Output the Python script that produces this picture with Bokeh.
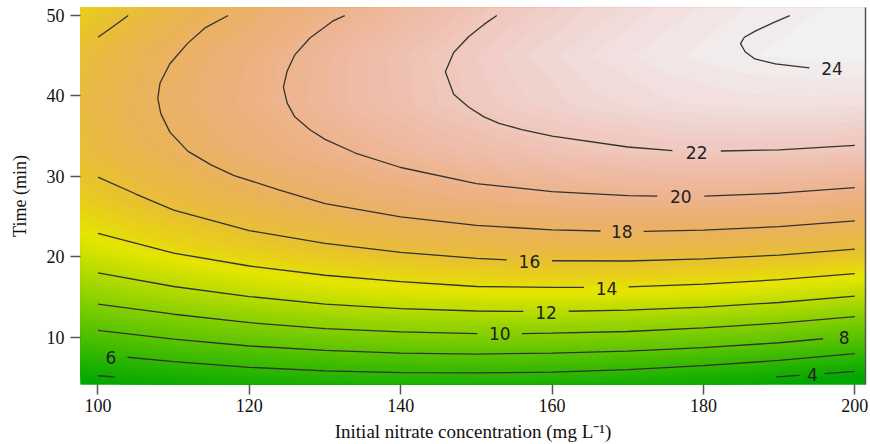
import colorsys
import numpy as np
from bokeh.plotting import figure
from bokeh.models import Range1d, LinearAxis, FixedTicker
from bokeh.core.properties import value
from bokeh.embed import file_html
from bokeh.resources import INLINE

nan = float("nan")

# ---- response surface (removal values) ----
conc_grid = [95, 105, 115, 125, 135, 145, 155, 165, 175, 185, 195, 205]
time_grid = [3, 9, 15, 21, 27, 33, 39, 45, 51]
z_t03 = [1.89, 2.59, 3.13, 3.51, 3.74, 3.80, 3.70, 3.45, 3.03, 2.45, 1.72, 0.82]
z_t09 = [6.30, 7.13, 7.79, 8.30, 8.66, 8.84, 8.87, 8.75, 8.45, 8.01, 7.40, 6.63]
z_t15 = [9.91, 10.86, 11.64, 12.28, 12.75, 13.06, 13.22, 13.22, 13.05, 12.73, 12.25, 11.61]
z_t21 = [12.70, 13.77, 14.68, 15.43, 16.03, 16.46, 16.74, 16.87, 16.82, 16.63, 16.28, 15.76]
z_t27 = [14.67, 15.87, 16.89, 17.77, 18.49, 19.04, 19.45, 19.70, 19.77, 19.70, 19.48, 19.08]
z_t33 = [15.84, 17.15, 18.30, 19.29, 20.13, 20.81, 21.33, 21.70, 21.90, 21.95, 21.85, 21.57]
z_t39 = [16.19, 17.62, 18.88, 20.00, 20.96, 21.75, 22.39, 22.88, 23.20, 23.37, 23.39, 23.24]
z_t45 = [15.73, 17.27, 18.65, 19.88, 20.96, 21.87, 22.63, 23.24, 23.68, 23.97, 24.11, 24.07]
z_t51 = [14.45, 16.11, 17.61, 18.95, 20.15, 21.17, 22.05, 22.77, 23.33, 23.74, 23.99, 24.08]
z_low, z_high = 3.0, 24.19

# ---- contour lines (x: mg/L, y: min) ----
c4_x = [100.0, 102.2, nan, 189.6, 192.7, nan, 196.0, 200.0]
c4_y = [5.20, 5.05, nan, 5.05, 5.25, nan, 5.45, 5.75]
c6_x = [103.9, 110, 120, 130, 140, 150, 160, 170, 180, 190, 200]
c6_y = [7.50, 6.95, 6.25, 5.80, 5.58, 5.55, 5.65, 5.95, 6.45, 7.10, 7.95]
c8_x = [100, 110, 120, 130, 140, 150, 160, 170, 180, 190, 195.8]
c8_y = [10.85, 9.75, 8.90, 8.35, 8.00, 7.90, 8.00, 8.25, 8.70, 9.30, 9.80]
c10_x = [100, 110, 120, 130, 140, 150.1, nan, 156.0, 160, 170, 180, 190, 200]
c10_y = [14.10, 12.85, 11.80, 11.05, 10.65, 10.45, nan, 10.45, 10.50, 10.70, 11.15, 11.75, 12.55]
c12_x = [100, 110, 120, 130, 140, 150, 156.2, nan, 162.2, 170, 180, 190, 200]
c12_y = [18.00, 16.30, 15.05, 14.10, 13.55, 13.25, 13.20, nan, 13.22, 13.36, 13.74, 14.31, 15.10]
c14_x = [100, 110, 120, 130, 140, 150, 160, 164.2, nan, 170.1, 180, 190, 200]
c14_y = [22.90, 20.45, 18.85, 17.70, 16.90, 16.30, 16.18, 16.18, nan, 16.25, 16.60, 17.15, 17.90]
c16_x = [100, 105, 110, 120, 130, 140, 150, 154.0, nan, 160.0, 170, 180, 190, 200, nan, 100, 101.5, 104.0]
c16_y = [29.90, 27.80, 25.80, 23.25, 21.65, 20.55, 19.80, 19.60, nan, 19.50, 19.47, 19.73, 20.21, 20.95, nan, 47.30, 48.30, 50.00]
c18_x = [117.2, 114.2, 111.9, 109.5, 108.2, 107.9, 108.3, 109.5, 111.9, 115.0, 118.0, 124.0, 130, 140, 150, 160, 166.4, nan, 172.1, 180, 190, 200]
c18_y = [50.0, 48.5, 46.6, 44.0, 41.6, 39.7, 37.8, 35.5, 33.1, 31.4, 30.1, 28.3, 26.6, 24.95, 23.9, 23.35, 23.2, nan, 23.15, 23.3, 23.75, 24.45]
c20_x = [132.6, 131.0, 128.0, 126.0, 125.0, 124.5, 125.0, 126.0, 128.0, 130.0, 134.0, 140, 150, 160, 170, 173.9, nan, 180.1, 190, 200]
c20_y = [50.0, 49.3, 47.2, 45.1, 43.1, 41.1, 39.1, 37.4, 35.8, 34.6, 32.9, 31.1, 29.1, 28.1, 27.6, 27.55, nan, 27.55, 27.9, 28.6]
c22_x = [152.7, 151.0, 149.0, 147.0, 145.9, 147.0, 149.0, 151.0, 153.0, 156.0, 160, 170, 175.9, nan, 182.3, 190, 200]
c22_y = [50.0, 48.9, 47.4, 45.4, 43.0, 40.2, 38.6, 37.4, 36.6, 35.8, 35.0, 33.65, 33.2, nan, 33.15, 33.3, 33.85]
c24_x = [191.4, 189.1, 186.9, 185.4, 184.9, 185.5, 186.8, 189.5, 194.0]
c24_y = [50.0, 49.05, 48.1, 47.3, 46.5, 45.5, 44.6, 44.0, 43.5]

label_text = ["24", "22", "20", "18", "16", "14", "12", "10", "8", "6", "4"]
label_x = [197.0, 179.1, 177.0, 169.2, 157.0, 167.2, 159.2, 153.1, 198.6, 101.7, 194.4]
label_y = [43.4, 33.0, 27.45, 23.1, 19.45, 16.05, 13.1, 10.45, 10.0, 7.5, 5.3]

x_ticks = [100, 120, 140, 160, 180, 200]
y_ticks = [10, 20, 30, 40, 50]


def terrain(t):
    t = min(max(t, 0.0), 1.0)
    if t < 0.5:
        s = t / 0.5
        h, sat, v = (120 - 60 * s) / 360.0, 1.0, 0.65 + 0.25 * s
    else:
        s = (t - 0.5) / 0.5
        h, sat, v = (60 - 60 * s) / 360.0, 1.0 - s, 0.90 + 0.05 * s
    r, g, b = colorsys.hsv_to_rgb(h, sat, v)
    return "#%02x%02x%02x" % (round(r * 255), round(g * 255), round(b * 255))


p = figure(width=870, height=444,
           x_range=Range1d(97.69, 201.41), y_range=Range1d(4.11, 51.0),
           output_backend="svg", toolbar_location=None,
           min_border_left=80, min_border_right=5, min_border_top=7, min_border_bottom=0,
           background_fill_color=terrain(0.0), border_fill_color="white",
           outline_line_color=None)
p.grid.visible = False

Z = np.array([z_t03, z_t09, z_t15, z_t21, z_t27, z_t33, z_t39, z_t45, z_t51])
xg = np.array(conc_grid, dtype=float)
yg = np.array(time_grid, dtype=float)
step = 0.25
L = z_low
while L < 24.1:
    col = terrain((L + step / 2 - z_low) / (z_high - z_low))
    lo = L if L > z_low else -50.0
    p.contour(xg, yg, Z, levels=[lo, 99.0], fill_color=[col])
    L += step

line_sets = [(c4_x, c4_y), (c6_x, c6_y), (c8_x, c8_y), (c10_x, c10_y), (c12_x, c12_y),
             (c14_x, c14_y), (c16_x, c16_y), (c18_x, c18_y), (c20_x, c20_y),
             (c22_x, c22_y), (c24_x, c24_y)]
for xs, ys in line_sets:
    p.line(xs, ys, line_color="#333333", line_width=1.3)

p.text(x=label_x, y=label_y, text=label_text, text_font=value("DejaVu Sans"),
       text_font_size="17px", text_align="center", text_baseline="middle",
       text_color="#222222")

for ax in (p.xaxis[0], p.yaxis[0]):
    ax.axis_line_color = None
    ax.major_tick_line_color = "#555555"
    ax.major_tick_line_width = 1.5
    ax.major_tick_out = 10
    ax.major_tick_in = 0
    ax.minor_tick_line_color = None
    ax.major_label_text_font = "Liberation Serif"
    ax.major_label_text_font_size = "18px"
    ax.major_label_text_color = "#111111"
    ax.axis_label_text_font = "Liberation Serif"
    ax.axis_label_text_font_style = "normal"
    ax.axis_label_text_color = "#111111"

p.xaxis.ticker = FixedTicker(ticks=x_ticks)
p.yaxis.ticker = FixedTicker(ticks=y_ticks)
p.xaxis.major_label_standoff = 4
p.yaxis.major_label_standoff = 6
p.xaxis.axis_label = "Initial nitrate concentration (mg L\u207b\u00b9)"
p.xaxis.axis_label_text_font_size = "19px"
p.xaxis.axis_label_standoff = 6
p.yaxis.axis_label = "Time (min)"
p.yaxis.axis_label_text_font_size = "18px"
p.yaxis.axis_label_standoff = 14

right = LinearAxis(ticker=FixedTicker(ticks=[]), axis_line_color="#555555",
                   axis_line_width=1.5, major_tick_line_color=None,
                   minor_tick_line_color=None, major_label_text_font_size="0px")
p.add_layout(right, "right")

open("out.html", "w").write(file_html(p, INLINE))
